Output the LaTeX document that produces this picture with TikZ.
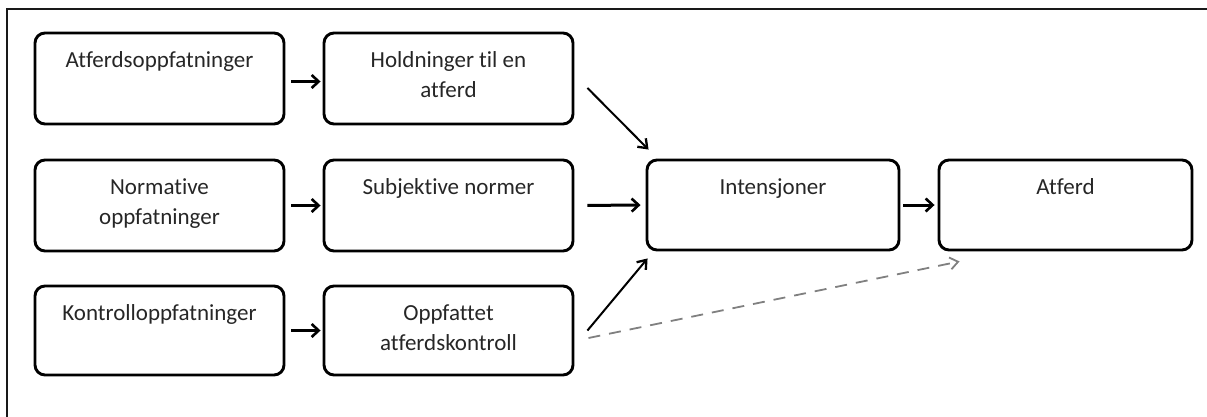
\documentclass[tikz,border=0pt]{standalone}
\usepackage{fontspec}
\setmainfont{Carlito}[Ligatures={NoCommon}]
\usetikzlibrary{arrows.meta}
\begin{document}
\begin{tikzpicture}[x=1pt,y=-1pt,
  box/.style={draw, line width=2.9pt, rounded corners=10pt, minimum width=249pt, minimum height=91pt, inner sep=0pt},
  txt/.style={font=\fontsize{23}{30}\selectfont, align=center, inner sep=0pt, anchor=base, text=black!85},
  thickarrow/.style={line width=3pt, -{Straight Barb[length=7pt,width=13pt,line width=2.6pt]}},
  thinarrow/.style={line width=2pt, -{Straight Barb[length=8pt,width=12pt,line width=2.3pt]}},
  dasharrow/.style={line width=1.8pt, draw=black!50, dash pattern=on 12pt off 9pt, -{Straight Barb[length=8pt,width=12pt]}}]
\useasboundingbox (0,0) rectangle (1207,416);
\clip (0,0) rectangle (1207,416);
\draw[line width=1.8pt, draw=black!90] (7,9) rectangle (1240,450);

% boxes
\node[box] (a1) at (159.5,78.5) {};
\node[box] (b1) at (448.5,78.5) {};
\node[box] (a2) at (159.5,205.5) {};
\node[box] (b2) at (448.5,205.5) {};
\node[box, minimum height=89pt] (a3) at (159.5,330.5) {};
\node[box, minimum height=89pt] (b3) at (448.5,330.5) {};
\node[box, minimum width=252pt, minimum height=90pt] (c) at (773,205) {};
\node[box, minimum width=253pt, minimum height=90pt] (d) at (1065.5,205) {};

% texts
\node[txt] (a1t) at ([yshift=-36pt]a1.north) {Atferdsoppfatninger};
\node[txt] (b1t) at ([yshift=-66pt]b1.north) {Holdninger til en\\atferd};
\node[txt] (a2t) at ([yshift=-66pt]a2.north) {Normative\\oppfatninger};
\node[txt] (b2t) at ([yshift=-36pt]b2.north) {Subjektive normer};
\node[txt] (a3t) at ([yshift=-36pt]a3.north) {Kontrolloppfatninger};
\node[txt] (b3t) at ([yshift=-66pt]b3.north) {Oppfattet\\atferdskontroll};
\node[txt] (ct) at ([yshift=-36pt]c.north) {Intensjoner};
\node[txt] (dt) at ([yshift=-36pt]d.north) {Atferd};

% short arrows
\draw[thickarrow, shorten <=6pt, shorten >=2pt] ([yshift=-3pt]a1.east) -- ([yshift=-3pt]b1.west);
\draw[thickarrow, shorten <=6pt, shorten >=2pt] (a2.east) -- (b2.west);
\draw[thickarrow, shorten <=6pt, shorten >=2pt] (a3.east) -- (b3.west);
\draw[thickarrow, shorten <=13pt, shorten >=5pt] (b2.east) -- (c.west);
\draw[thickarrow, shorten <=3pt, shorten >=3pt] (c.east) -- (d.west);

% diagonal arrows
\draw[thinarrow] ([xshift=13pt,yshift=-9.5pt]b1.east) -- ([xshift=3pt,yshift=9pt]c.north west);
\draw[thinarrow] ([xshift=13pt]b3.east) -- ([xshift=2pt,yshift=-7pt]c.south west);
\draw[dasharrow] ([xshift=14pt,yshift=-7.5pt]b3.east) -- ([xshift=22pt,yshift=-10pt]d.south west);
\end{tikzpicture}
\end{document}
